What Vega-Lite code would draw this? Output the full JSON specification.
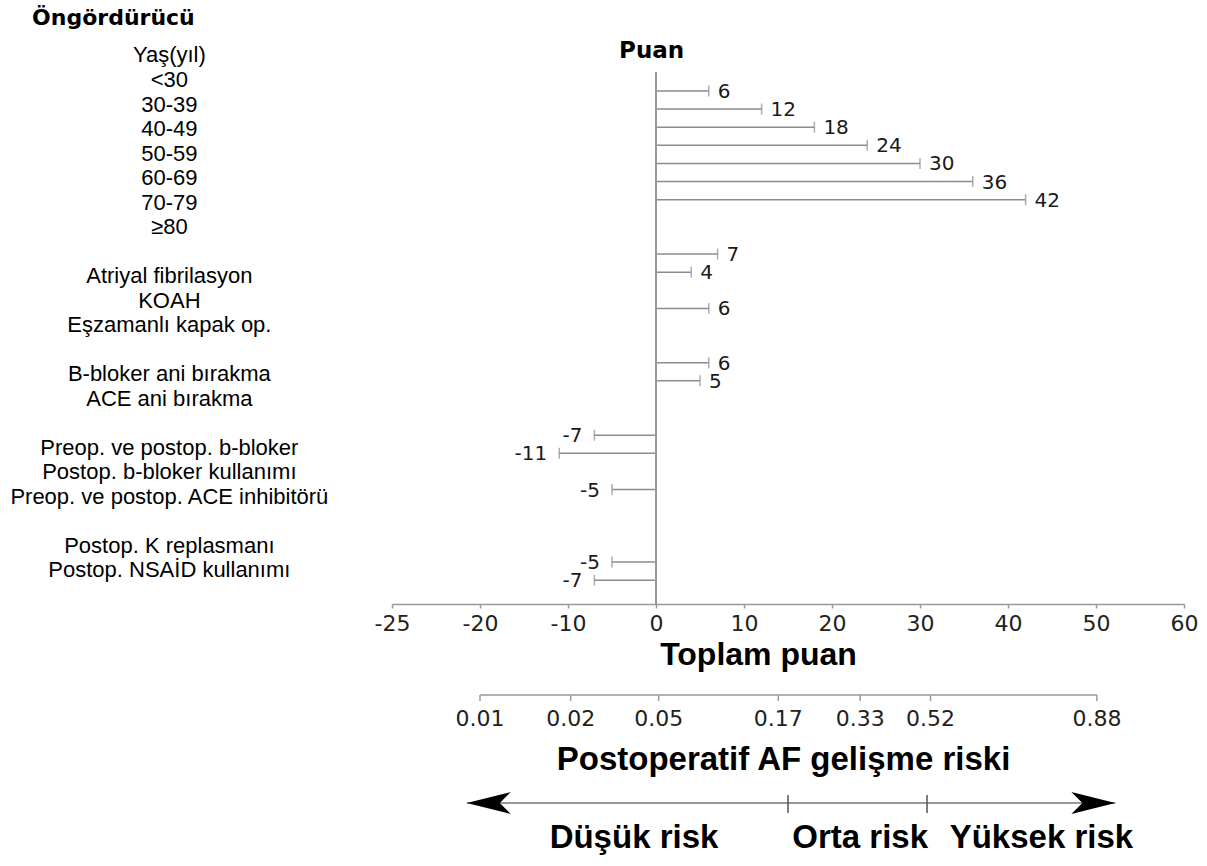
{
  "$schema": "https://vega.github.io/schema/vega-lite/v6.json",
  "autosize": "none",
  "width": 792,
  "height": 564,
  "padding": {"left": 392, "top": 40, "right": 23, "bottom": 262},
  "background": "#ffffff",
  "config": {"view": {"stroke": null}},
  "datasets": {
    "predictors": [
      {"predictor": "Yaş(yıl)", "points": null},
      {"predictor": "<30", "points": 6},
      {"predictor": "30-39", "points": 12},
      {"predictor": "40-49", "points": 18},
      {"predictor": "50-59", "points": 24},
      {"predictor": "60-69", "points": 30},
      {"predictor": "70-79", "points": 36},
      {"predictor": "≥80", "points": 42},
      {"predictor": "Atriyal fibrilasyon", "points": 7},
      {"predictor": "KOAH", "points": 4},
      {"predictor": "Eşzamanlı kapak op.", "points": 6},
      {"predictor": "B-bloker ani bırakma", "points": 6},
      {"predictor": "ACE ani bırakma", "points": 5},
      {"predictor": "Preop. ve postop. b-bloker", "points": -7},
      {"predictor": "Postop. b-bloker kullanımı", "points": -11},
      {"predictor": "Preop. ve postop. ACE inhibitörü", "points": -5},
      {"predictor": "Postop. K replasmanı", "points": -5},
      {"predictor": "Postop. NSAİD kullanımı", "points": -7}
    ],
    "riskTicks": [
      {"risk": "0.01", "points": -20},
      {"risk": "0.02", "points": -9.7},
      {"risk": "0.05", "points": 0.3},
      {"risk": "0.17", "points": 13.9},
      {"risk": "0.33", "points": 23.2},
      {"risk": "0.52", "points": 31.2},
      {"risk": "0.88", "points": 50.1}
    ],
    "riskBands": [
      {"category": "Düşük risk", "center": -2.5, "upper": 15},
      {"category": "Orta risk", "center": 23.2, "upper": 30.8},
      {"category": "Yüksek risk", "center": 43.8, "upper": null}
    ]
  },
  "layer": [
    {
      "data": {"name": "predictors"},
      "mark": {"type": "text", "font": "Liberation Sans", "fontSize": 22, "align": "center", "baseline": "middle", "color": "#000000"},
      "encoding": {
        "x": {"datum": -55.3, "type": "quantitative", "scale": {"domain": [-30, 60], "nice": false, "zero": false}},
        "y": {
          "field": "predictor", "type": "nominal", "axis": null,
          "scale": {
            "type": "point", "padding": 1, "align": 0.316,
            "domain": ["Yaş(yıl)", "<30", "30-39", "40-49", "50-59", "60-69", "70-79", "≥80", "_g1",
              "Atriyal fibrilasyon", "KOAH", "Eşzamanlı kapak op.", "_g2",
              "B-bloker ani bırakma", "ACE ani bırakma", "_g3",
              "Preop. ve postop. b-bloker", "Postop. b-bloker kullanımı", "Preop. ve postop. ACE inhibitörü", "_g4",
              "Postop. K replasmanı", "Postop. NSAİD kullanımı"]
          }
        },
        "text": {"field": "predictor", "type": "nominal"}
      }
    },
    {
      "data": {"name": "predictors"},
      "transform": [{"filter": "datum.points != null"}],
      "encoding": {
        "y": {
          "field": "predictor", "type": "nominal", "axis": null,
          "scale": {
            "type": "point", "padding": 0.565, "align": 0.72,
            "domain": ["_t1", "_t2", "<30", "30-39", "40-49", "50-59", "60-69", "70-79", "≥80", "_b1", "_b2",
              "Atriyal fibrilasyon", "KOAH", "_b3", "Eşzamanlı kapak op.", "_b4", "_b5",
              "B-bloker ani bırakma", "ACE ani bırakma", "_b6", "_b7",
              "Preop. ve postop. b-bloker", "Postop. b-bloker kullanımı", "_b8", "Preop. ve postop. ACE inhibitörü",
              "_b9", "_b10", "_b11", "Postop. K replasmanı", "Postop. NSAİD kullanımı", "_e1"]
          }
        }
      },
      "layer": [
        {
          "mark": {"type": "rule", "color": "#8c8c8c", "strokeWidth": 1.5},
          "encoding": {
            "x": {
              "field": "points", "type": "quantitative",
              "scale": {"domain": [-30, 60], "nice": false, "zero": false},
              "axis": {
                "values": [-30, -20, -10, 0, 10, 20, 30, 40, 50, 60],
                "labelExpr": "datum.value == -30 ? '-25' : '' + datum.value",
                "grid": false,
                "labelFlush": false,
                "labelOverlap": false,
                "labelFont": "DejaVu Sans",
                "labelFontSize": 22,
                "labelColor": "#222222",
                "labelPadding": 5,
                "tickSize": 4,
                "tickColor": "#999999",
                "tickWidth": 1.5,
                "domainColor": "#999999",
                "domainWidth": 1.5,
                "title": "Toplam puan",
                "titleFont": "Liberation Sans",
                "titleFontWeight": "bold",
                "titleFontSize": 32,
                "titleColor": "#000000",
                "titleX": 366,
                "titleY": 60,
                "titleAlign": "center",
                "titleBaseline": "alphabetic"
              }
            },
            "x2": {"datum": 0}
          }
        },
        {
          "mark": {"type": "tick", "orient": "vertical", "color": "#8c8c8c", "size": 11, "thickness": 1.5},
          "encoding": {
            "x": {"field": "points", "type": "quantitative", "scale": {"domain": [-30, 60], "nice": false, "zero": false}}
          }
        },
        {
          "transform": [{"filter": "datum.points > 0"}],
          "mark": {"type": "text", "font": "DejaVu Sans", "fontSize": 20, "align": "left", "baseline": "middle", "dx": 9, "dy": 1, "color": "#1a1a1a"},
          "encoding": {
            "x": {"field": "points", "type": "quantitative", "scale": {"domain": [-30, 60], "nice": false, "zero": false}},
            "text": {"field": "points", "type": "nominal"}
          }
        },
        {
          "transform": [{"filter": "datum.points < 0"}],
          "mark": {"type": "text", "font": "DejaVu Sans", "fontSize": 20, "align": "right", "baseline": "middle", "dx": -12, "dy": 1, "color": "#1a1a1a"},
          "encoding": {
            "x": {"field": "points", "type": "quantitative", "scale": {"domain": [-30, 60], "nice": false, "zero": false}},
            "text": {"field": "points", "type": "nominal"}
          }
        }
      ]
    },
    {
      "layer": [
        {
          "data": {"values": [{"line": "zero"}]},
          "mark": {"type": "rule", "color": "#999999", "strokeWidth": 2},
          "encoding": {
            "x": {"datum": 0, "type": "quantitative", "scale": {"domain": [-30, 60], "nice": false, "zero": false}},
            "y": {"datum": 94.33, "type": "quantitative", "scale": {"domain": [0, 100], "nice": false, "zero": false}, "axis": null},
            "y2": {"datum": 0}
          }
        },
        {
          "data": {"values": [{"label": "Puan"}]},
          "mark": {"type": "text", "font": "DejaVu Sans", "fontWeight": "bold", "fontSize": 23, "align": "center", "baseline": "alphabetic", "color": "#000000"},
          "encoding": {
            "x": {"datum": -0.5, "type": "quantitative", "scale": {"domain": [-30, 60], "nice": false, "zero": false}},
            "y": {"datum": 96.76, "type": "quantitative", "axis": null},
            "text": {"field": "label", "type": "nominal"}
          }
        },
        {
          "data": {"values": [{"label": "Öngördürücü"}]},
          "mark": {"type": "text", "font": "DejaVu Sans", "fontWeight": "bold", "fontSize": 22, "align": "left", "baseline": "alphabetic", "color": "#000000"},
          "encoding": {
            "x": {"datum": -70.9, "type": "quantitative", "scale": {"domain": [-30, 60], "nice": false, "zero": false}},
            "y": {"datum": 102.66, "type": "quantitative", "axis": null},
            "text": {"field": "label", "type": "nominal"}
          }
        },
        {
          "data": {"name": "riskTicks"},
          "mark": {"type": "rule", "color": "#999999", "strokeWidth": 1.5},
          "encoding": {
            "x": {"aggregate": "min", "field": "points", "type": "quantitative", "scale": {"domain": [-30, 60], "nice": false, "zero": false}},
            "x2": {"aggregate": "max", "field": "points"},
            "y": {"datum": -16.13, "type": "quantitative", "axis": null}
          }
        },
        {
          "data": {"name": "riskTicks"},
          "mark": {"type": "rule", "color": "#999999", "strokeWidth": 1.5},
          "encoding": {
            "x": {"field": "points", "type": "quantitative", "scale": {"domain": [-30, 60], "nice": false, "zero": false}},
            "y": {"datum": -16.13, "type": "quantitative", "axis": null},
            "y2": {"datum": -17.2}
          }
        },
        {
          "data": {"name": "riskTicks"},
          "mark": {"type": "text", "font": "DejaVu Sans", "fontSize": 22, "align": "center", "baseline": "middle", "color": "#222222"},
          "encoding": {
            "x": {"field": "points", "type": "quantitative", "scale": {"domain": [-30, 60], "nice": false, "zero": false}},
            "y": {"datum": -20.32, "type": "quantitative", "axis": null},
            "text": {"field": "risk", "type": "nominal"}
          }
        },
        {
          "data": {"values": [{"label": "Postoperatif AF gelişme riski"}]},
          "mark": {"type": "text", "font": "Liberation Sans", "fontWeight": "bold", "fontSize": 33, "align": "center", "baseline": "alphabetic", "color": "#000000"},
          "encoding": {
            "x": {"datum": 14.49, "type": "quantitative", "scale": {"domain": [-30, 60], "nice": false, "zero": false}},
            "y": {"datum": -29.43, "type": "quantitative", "axis": null},
            "text": {"field": "label", "type": "nominal"}
          }
        },
        {
          "data": {"values": [{"line": "arrow"}]},
          "mark": {"type": "rule", "color": "#999999", "strokeWidth": 2},
          "encoding": {
            "x": {"datum": -21.5, "type": "quantitative", "scale": {"domain": [-30, 60], "nice": false, "zero": false}},
            "x2": {"datum": 52.2},
            "y": {"datum": -35.28, "type": "quantitative", "axis": null}
          }
        },
        {
          "data": {"values": [{"head": "left"}]},
          "mark": {"type": "point", "shape": "M0,0L2,-0.5L1.5,0L2,0.5Z", "size": 1936, "filled": true, "color": "#000000", "opacity": 1, "strokeWidth": 0},
          "encoding": {
            "x": {"datum": -21.5, "type": "quantitative", "scale": {"domain": [-30, 60], "nice": false, "zero": false}},
            "y": {"datum": -35.28, "type": "quantitative", "axis": null}
          }
        },
        {
          "data": {"values": [{"head": "right"}]},
          "mark": {"type": "point", "shape": "M0,0L-2,-0.5L-1.5,0L-2,0.5Z", "size": 1936, "filled": true, "color": "#000000", "opacity": 1, "strokeWidth": 0},
          "encoding": {
            "x": {"datum": 52.2, "type": "quantitative", "scale": {"domain": [-30, 60], "nice": false, "zero": false}},
            "y": {"datum": -35.28, "type": "quantitative", "axis": null}
          }
        },
        {
          "data": {"name": "riskBands"},
          "transform": [{"filter": "datum.upper != null"}],
          "mark": {"type": "rule", "color": "#555555", "strokeWidth": 1.5},
          "encoding": {
            "x": {"field": "upper", "type": "quantitative", "scale": {"domain": [-30, 60], "nice": false, "zero": false}},
            "y": {"datum": -33.87, "type": "quantitative", "axis": null},
            "y2": {"datum": -37.06}
          }
        },
        {
          "data": {"name": "riskBands"},
          "mark": {"type": "text", "font": "Liberation Sans", "fontWeight": "bold", "fontSize": 33, "align": "center", "baseline": "alphabetic", "color": "#000000"},
          "encoding": {
            "x": {"field": "center", "type": "quantitative", "scale": {"domain": [-30, 60], "nice": false, "zero": false}},
            "y": {"datum": -43.26, "type": "quantitative", "axis": null},
            "text": {"field": "category", "type": "nominal"}
          }
        }
      ]
    }
  ],
  "resolve": {"scale": {"y": "independent"}}
}
